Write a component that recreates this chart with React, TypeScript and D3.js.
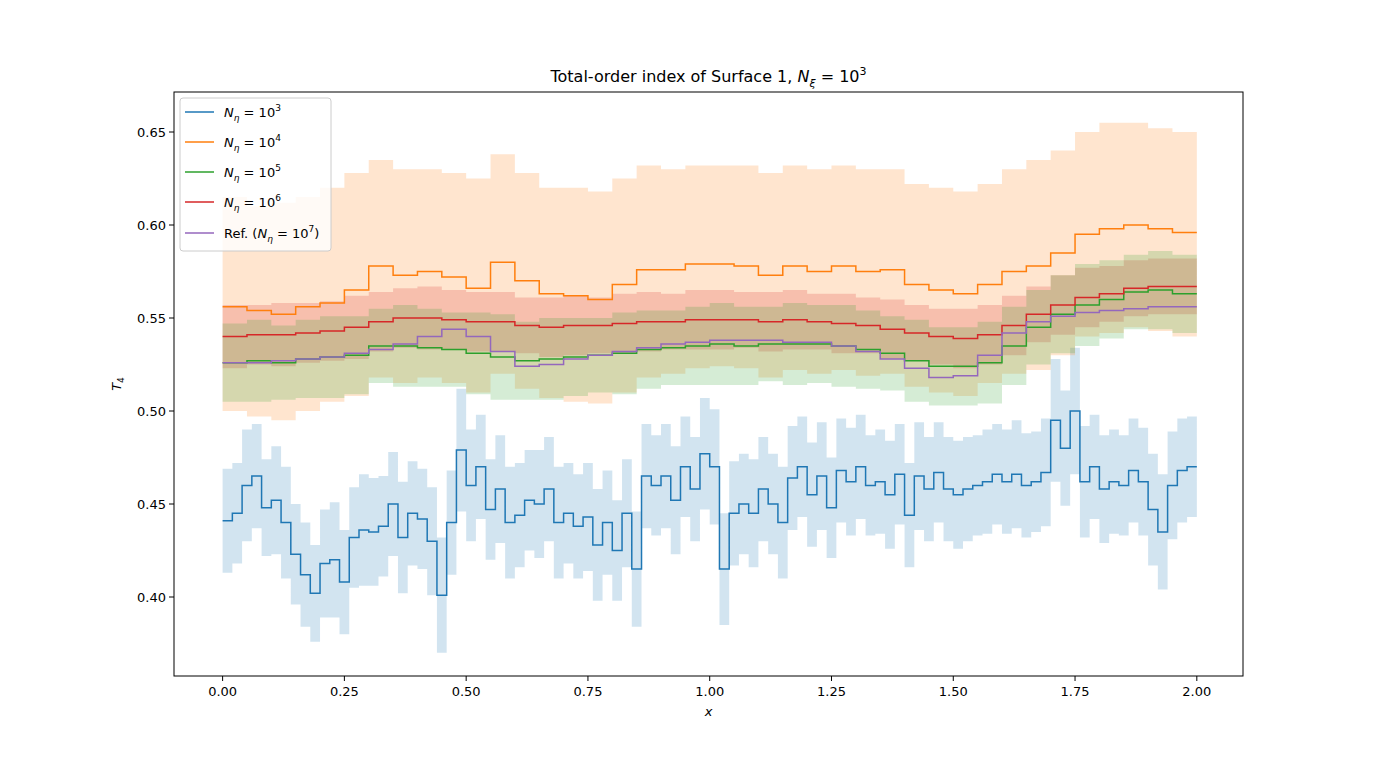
import { useEffect } from 'react'
import * as d3 from 'd3'

// step 0.05 series (40 steps over [0, 2])
const coarseX = d3.range(40).map(i => i * 0.05)
const orange = [0.556,0.554,0.552,0.556,0.558,0.565,0.578,0.573,0.575,0.572,0.566,0.580,0.570,0.563,0.562,0.560,0.568,0.576,0.576,0.579,0.579,0.578,0.573,0.578,0.575,0.578,0.575,0.576,0.568,0.565,0.563,0.568,0.575,0.578,0.585,0.595,0.598,0.600,0.598,0.596]
const orangeHi = [0.615,0.610,0.612,0.615,0.620,0.628,0.635,0.630,0.630,0.628,0.625,0.638,0.628,0.620,0.620,0.618,0.625,0.632,0.630,0.632,0.632,0.632,0.628,0.632,0.630,0.632,0.630,0.630,0.622,0.620,0.618,0.622,0.630,0.635,0.640,0.650,0.655,0.655,0.652,0.650]
const orangeLo = [0.500,0.497,0.495,0.500,0.505,0.508,0.518,0.515,0.518,0.515,0.510,0.520,0.512,0.507,0.505,0.504,0.510,0.518,0.520,0.523,0.524,0.523,0.518,0.522,0.520,0.522,0.519,0.520,0.513,0.510,0.508,0.515,0.520,0.522,0.530,0.540,0.542,0.545,0.543,0.540]
const red = [0.540,0.541,0.541,0.542,0.543,0.545,0.548,0.550,0.550,0.549,0.548,0.548,0.546,0.545,0.546,0.546,0.547,0.548,0.548,0.549,0.549,0.549,0.548,0.549,0.548,0.547,0.546,0.544,0.542,0.540,0.539,0.541,0.546,0.552,0.557,0.561,0.563,0.566,0.567,0.567]
const redHalf = [0.017,0.016,0.017,0.016,0.016,0.017,0.016,0.016,0.017,0.016,0.016,0.016,0.015,0.016,0.016,0.015,0.016,0.016,0.015,0.016,0.016,0.015,0.016,0.016,0.015,0.016,0.015,0.016,0.015,0.015,0.016,0.016,0.016,0.015,0.016,0.016,0.015,0.015,0.015,0.015]
const green = [0.526,0.527,0.526,0.528,0.529,0.530,0.535,0.535,0.534,0.533,0.531,0.529,0.527,0.528,0.529,0.530,0.531,0.533,0.534,0.535,0.536,0.535,0.536,0.536,0.536,0.535,0.533,0.531,0.527,0.524,0.524,0.526,0.535,0.545,0.552,0.557,0.560,0.564,0.565,0.563]
const greenHalf = [0.021,0.022,0.020,0.021,0.022,0.021,0.020,0.022,0.021,0.020,0.022,0.023,0.021,0.022,0.021,0.020,0.022,0.021,0.020,0.021,0.022,0.021,0.020,0.022,0.021,0.022,0.021,0.020,0.022,0.021,0.021,0.022,0.021,0.020,0.021,0.022,0.021,0.020,0.021,0.021]
const purple = [0.526,0.526,0.527,0.528,0.529,0.531,0.533,0.536,0.540,0.544,0.540,0.532,0.524,0.525,0.528,0.530,0.532,0.534,0.536,0.537,0.538,0.538,0.538,0.537,0.537,0.535,0.532,0.528,0.523,0.518,0.519,0.530,0.542,0.548,0.551,0.553,0.554,0.555,0.556,0.556]

// step 0.02 series (100 steps)
const fineX = d3.range(100).map(i => i * 0.02)
const blue = [0.441,0.445,0.460,0.465,0.448,0.452,0.440,0.423,0.412,0.402,0.418,0.420,0.408,0.432,0.436,0.435,0.438,0.450,0.432,0.445,0.442,0.430,0.401,0.440,0.479,0.460,0.470,0.447,0.458,0.440,0.444,0.452,0.450,0.458,0.440,0.445,0.438,0.443,0.428,0.440,0.425,0.445,0.415,0.465,0.460,0.465,0.452,0.470,0.458,0.477,0.470,0.415,0.445,0.450,0.445,0.458,0.450,0.440,0.464,0.470,0.455,0.465,0.448,0.468,0.462,0.470,0.460,0.462,0.455,0.466,0.444,0.465,0.458,0.467,0.458,0.455,0.458,0.460,0.462,0.466,0.462,0.466,0.460,0.462,0.467,0.495,0.480,0.500,0.462,0.470,0.458,0.462,0.460,0.468,0.462,0.447,0.435,0.460,0.468,0.470]
const blueHalf = [0.028,0.027,0.030,0.028,0.026,0.029,0.030,0.027,0.028,0.026,0.029,0.031,0.028,0.027,0.030,0.029,0.027,0.028,0.030,0.028,0.027,0.029,0.031,0.028,0.033,0.030,0.028,0.027,0.029,0.030,0.028,0.027,0.029,0.028,0.030,0.027,0.028,0.029,0.030,0.028,0.027,0.029,0.031,0.028,0.027,0.028,0.029,0.027,0.028,0.030,0.031,0.030,0.028,0.027,0.029,0.028,0.027,0.030,0.028,0.027,0.028,0.029,0.027,0.028,0.029,0.028,0.027,0.028,0.029,0.027,0.028,0.029,0.028,0.027,0.028,0.029,0.028,0.027,0.028,0.027,0.028,0.029,0.028,0.027,0.029,0.033,0.031,0.034,0.030,0.028,0.029,0.028,0.027,0.028,0.029,0.030,0.031,0.029,0.028,0.027]

const xTicks = [0, 0.25, 0.5, 0.75, 1.0, 1.25, 1.5, 1.75, 2.0]
const yTicks = [0.40, 0.45, 0.50, 0.55, 0.60, 0.65]
const legendExps = ['3', '4', '5', '6']

const W = 1381, H = 759
const M = { left: 174, right: 1243, top: 92, bottom: 676 }
const FONT = 'DejaVu Sans, sans-serif'

type P = { x: number; y: number; lo?: number; hi?: number }

const withEnd = (pts: P[]): P[] => [...pts, { ...pts[pts.length - 1], x: 2.0 }]

function NEta({ exp, x, y, pre = '', post = '' }: { exp: string; x: number; y: number; pre?: string; post?: string }) {
  return (
    <text x={x} y={y} fontSize={13} fontFamily={FONT} fill="#000">
      {pre}
      <tspan fontStyle="italic">N</tspan>
      <tspan fontStyle="italic" fontSize={9} dy={4}>η</tspan>
      <tspan dy={-4}> = 10</tspan>
      <tspan fontSize={9} dy={-6}>{exp}</tspan>
      <tspan dy={6}>{post}</tspan>
    </text>
  )
}

export default function App() {
  useEffect(() => { document.body.style.margin = '0' }, [])

  const x = d3.scaleLinear().domain([-0.0998, 2.0948]).range([M.left, M.right])
  const y = d3.scaleLinear().domain([0.40, 0.65]).range([597, 132])

  const line = d3.line<P>().x(d => x(d.x)).y(d => y(d.y)).curve(d3.curveStepAfter)
  const area = d3.area<P>().x(d => x(d.x)).y0(d => y(d.lo!)).y1(d => y(d.hi!)).curve(d3.curveStepAfter)

  const orangePts = withEnd(coarseX.map((v, i) => ({ x: v, y: orange[i], lo: orangeLo[i], hi: orangeHi[i] })))
  const redPts = withEnd(coarseX.map((v, i) => ({ x: v, y: red[i], lo: red[i] - redHalf[i], hi: red[i] + redHalf[i] })))
  const greenPts = withEnd(coarseX.map((v, i) => ({ x: v, y: green[i], lo: green[i] - greenHalf[i], hi: green[i] + greenHalf[i] })))
  const purplePts = withEnd(coarseX.map((v, i) => ({ x: v, y: purple[i] })))
  const bluePts = withEnd(fineX.map((v, i) => ({ x: v, y: blue[i], lo: blue[i] - blueHalf[i], hi: blue[i] + blueHalf[i] })))

  const legend = [
    { c: '#1f77b4', exp: legendExps[0] },
    { c: '#ff7f0e', exp: legendExps[1] },
    { c: '#2ca02c', exp: legendExps[2] },
    { c: '#d62728', exp: legendExps[3] },
  ]

  return (
    <svg width={W} height={H} style={{ display: 'block', background: '#fff' }}>
      <defs>
        <clipPath id="plot"><rect x={M.left} y={M.top} width={M.right - M.left} height={M.bottom - M.top} /></clipPath>
      </defs>
      <g clipPath="url(#plot)">
        <path d={area(bluePts)!} fill="#1f77b4" opacity={0.2} />
        <path d={area(orangePts)!} fill="#ff7f0e" opacity={0.2} />
        <path d={area(redPts)!} fill="#d62728" opacity={0.2} />
        <path d={area(greenPts)!} fill="#2ca02c" opacity={0.2} />
        <path d={line(bluePts)!} fill="none" stroke="#1f77b4" strokeWidth={1.5} />
        <path d={line(orangePts)!} fill="none" stroke="#ff7f0e" strokeWidth={1.5} />
        <path d={line(greenPts)!} fill="none" stroke="#2ca02c" strokeWidth={1.5} />
        <path d={line(redPts)!} fill="none" stroke="#d62728" strokeWidth={1.5} />
        <path d={line(purplePts)!} fill="none" stroke="#9467bd" strokeWidth={1.5} />
      </g>
      <rect x={M.left} y={M.top} width={M.right - M.left} height={M.bottom - M.top} fill="none" stroke="#000" strokeWidth={1} />
      {xTicks.map(t => (
        <g key={t}>
          <line x1={x(t)} x2={x(t)} y1={M.bottom} y2={M.bottom + 5} stroke="#000" />
          <text x={x(t)} y={M.bottom + 20} textAnchor="middle" fontSize={13} fontFamily={FONT}>{t.toFixed(2)}</text>
        </g>
      ))}
      {yTicks.map(t => (
        <g key={t}>
          <line x1={M.left - 5} x2={M.left} y1={y(t)} y2={y(t)} stroke="#000" />
          <text x={M.left - 8} y={y(t) + 4.5} textAnchor="end" fontSize={13} fontFamily={FONT}>{t.toFixed(2)}</text>
        </g>
      ))}
      <text x={(M.left + M.right) / 2} y={716} textAnchor="middle" fontSize={13} fontFamily={FONT} fontStyle="italic">x</text>
      <text transform={`translate(121,${(M.top + M.bottom) / 2}) rotate(-90)`} textAnchor="middle" fontSize={13} fontFamily={FONT}>
        <tspan fontStyle="italic">T</tspan><tspan fontSize={9} dy={3}>4</tspan>
      </text>
      <text x={(M.left + M.right) / 2} y={82} textAnchor="middle" fontSize={16} fontFamily={FONT}>
        Total-order index of Surface 1, <tspan fontStyle="italic">N</tspan>
        <tspan fontStyle="italic" fontSize={11} dy={5}>ξ</tspan>
        <tspan dy={-5}> = 10</tspan>
        <tspan fontSize={11} dy={-7}>3</tspan>
      </text>
      <rect x={180} y={98} width={151} height={153} rx={3} fill="#fff" fillOpacity={0.8} stroke="#ccc" />
      {legend.map((l, i) => (
        <g key={i}>
          <line x1={185} x2={214} y1={112 + i * 30} y2={112 + i * 30} stroke={l.c} strokeWidth={1.5} />
          <NEta exp={l.exp} x={224} y={117 + i * 30} />
        </g>
      ))}
      <line x1={185} x2={214} y1={233} y2={233} stroke="#9467bd" strokeWidth={1.5} />
      <NEta exp="7" x={224} y={238} pre="Ref. (" post=")" />
    </svg>
  )
}
